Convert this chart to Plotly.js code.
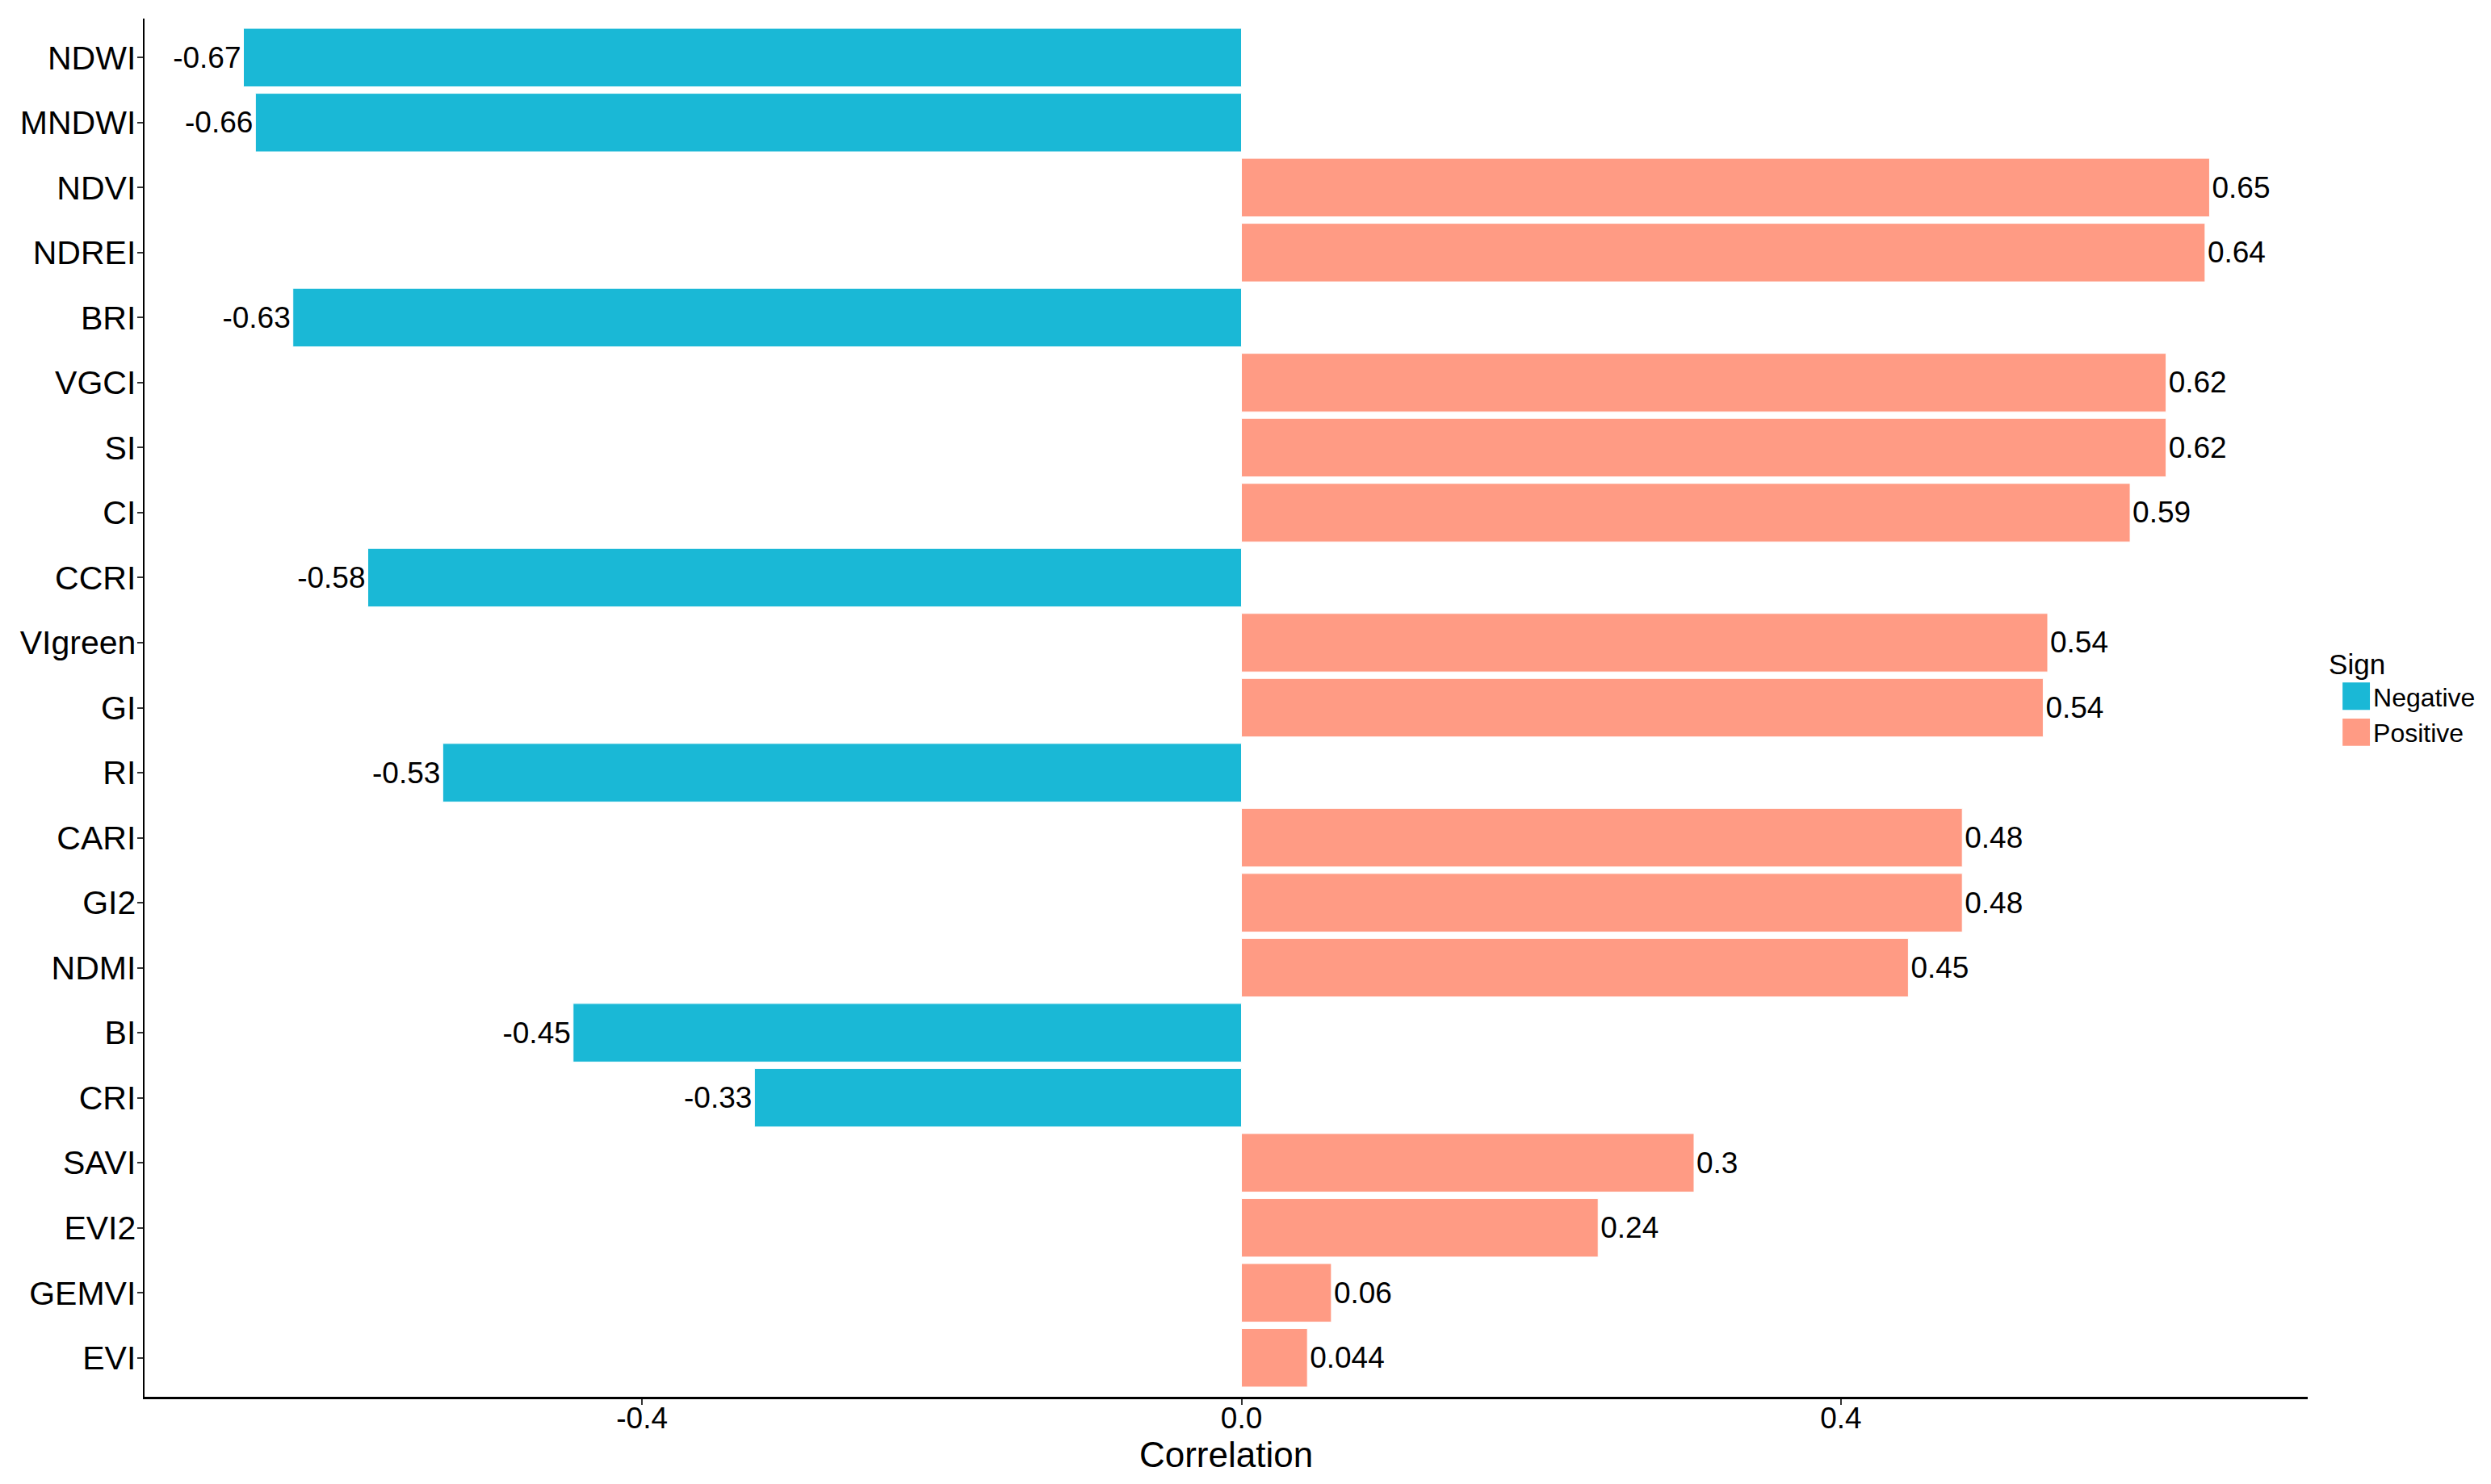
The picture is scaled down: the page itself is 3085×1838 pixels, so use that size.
<!DOCTYPE html>
<html>
<head>
<meta charset="utf-8">
<script src="https://cdn.plot.ly/plotly-3.0.1.min.js"></script>
<style>
  html, body { margin: 0; padding: 0; background: #fff; }
  #chart { width: 3085px; height: 1838px; }
  /* ggplot-style big legend keys */
  #chart .legend .legendpoints path { transform: translate(36px, 0) scale(3.08); }
</style>
</head>
<body>
<div id="chart"></div>
<script>
// indices, top to bottom
const indices = ['NDWI', 'MNDWI', 'NDVI', 'NDREI', 'BRI', 'VGCI', 'SI', 'CI', 'CCRI', 'VIgreen',
  'GI', 'RI', 'CARI', 'GI2', 'NDMI', 'BI', 'CRI', 'SAVI', 'EVI2', 'GEMVI', 'EVI'];
const correlation = [-0.666, -0.658, 0.646, 0.643, -0.633, 0.617, 0.617, 0.593, -0.583, 0.538,
  0.535, -0.533, 0.481, 0.481, 0.445, -0.446, -0.325, 0.302, 0.238, 0.060, 0.044];
const tickValues = [-0.4, 0, 0.4];
const tickLabels = ['-0.4', '0.0', '0.4'];

const negColor = '#1ab8d6';
const posColor = '#ff9b84';
const font = 'Liberation Sans, Arial, sans-serif';

const label = v => String(Number(v.toPrecision(2)));

function makeTrace(name, color, keep) {
  const y = [], x = [], text = [];
  indices.forEach((k, i) => {
    if (keep(correlation[i])) {
      y.push(k);
      x.push(correlation[i]);
      text.push(label(correlation[i]));
    }
  });
  return {
    type: 'bar',
    orientation: 'h',
    name: name,
    x: x,
    y: y,
    text: text,
    textposition: 'outside',
    constraintext: 'none',
    cliponaxis: false,
    textfont: { family: font, size: 37, color: '#000' },
    marker: { color: color, line: { color: '#ffffff', width: 1 } },
    hoverinfo: 'x+y',
  };
}

const traces = [
  makeTrace('Negative', negColor, v => v < 0),
  makeTrace('Positive', posColor, v => v >= 0),
];

const layout = {
  width: 3085,
  height: 1838,
  margin: { l: 179, r: 227, t: 23, b: 108 },
  paper_bgcolor: '#ffffff',
  plot_bgcolor: '#ffffff',
  barmode: 'relative',
  bargap: 0.1,
  font: { family: font, color: '#000' },
  xaxis: {
    range: [-0.732, 0.7115],
    tickmode: 'array',
    tickvals: tickValues,
    ticktext: tickLabels,
    showgrid: false,
    zeroline: false,
    showline: true,
    linecolor: '#000',
    linewidth: 2.5,
    ticks: 'outside',
    ticklen: 7,
    tickwidth: 2,
    tickcolor: '#333',
    ticklabelstandoff: -15,
    tickfont: { family: font, size: 37, color: '#000' },
    title: { text: 'Correlation', font: { family: font, size: 44, color: '#000' }, standoff: 0 },
  },
  yaxis: {
    type: 'category',
    categoryorder: 'array',
    categoryarray: indices,
    range: [20.6, -0.6],
    showgrid: false,
    zeroline: false,
    showline: true,
    linecolor: '#000',
    linewidth: 2.5,
    ticks: 'outside',
    ticklen: 7,
    tickwidth: 2,
    tickcolor: '#333',
    ticklabelstandoff: -7,
    tickfont: { family: font, size: 41, color: '#000' },
  },
  legend: {
    x: 1.009,
    xanchor: 'left',
    y: 0.551,
    yanchor: 'top',
    title: { text: 'Sign', font: { family: font, size: 35, color: '#000' } },
    font: { family: font, size: 32, color: '#000' },
    tracegroupgap: 0,
    itemwidth: 47,
  },
  showlegend: true,
};

Plotly.newPlot('chart', traces, layout, { displayModeBar: false, staticPlot: true });
</script>
</body>
</html>
